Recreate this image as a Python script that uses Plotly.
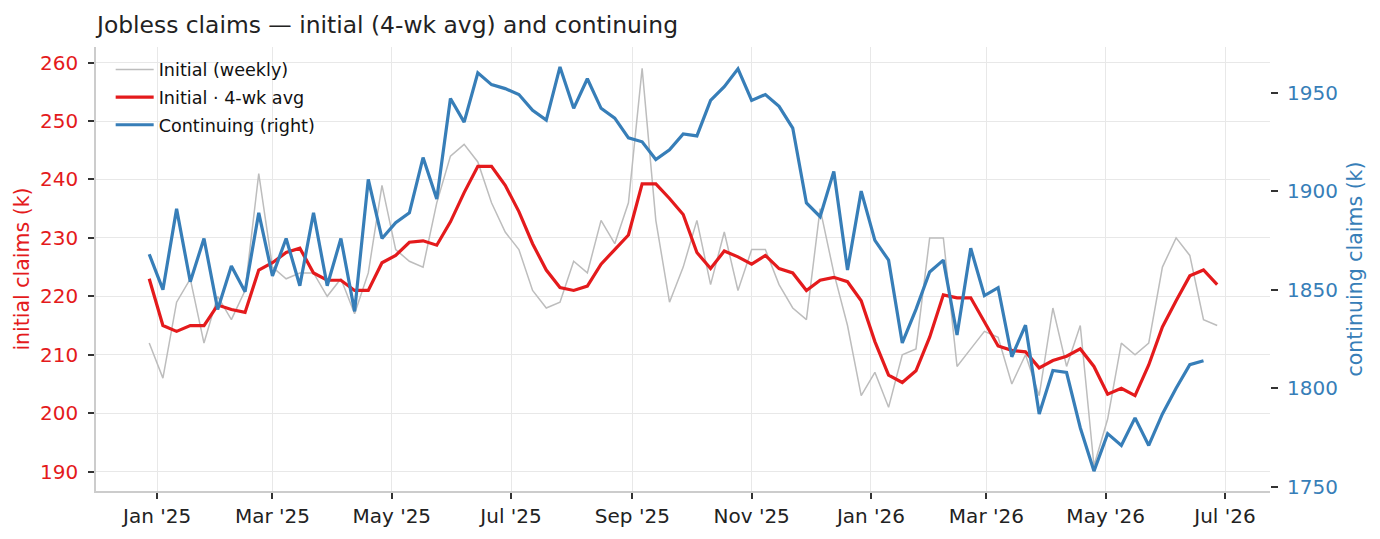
import pandas as pd
import plotly.graph_objects as go

# ---- data ----
week_start = "2024-12-28"          # first week-ending date (Saturday)
n_weeks = 79

initial_weekly = [
    212, 206, 219, 223, 212, 220, 216, 221, 241, 225,
    223, 224, 224, 220, 223, 217, 224, 239, 228, 226,
    225, 236, 244, 246, 243, 236, 231, 228, 221, 218,
    219, 226, 224, 233, 229, 236, 259, 233, 219, 225,
    233, 222, 231, 221, 228, 228, 222, 218, 216, 235,
    224, 215, 203, 207, 201, 210, 211, 230, 230, 208,
    211, 214, 213, 205, 210, 203, 218, 208, 215, 191,
    199, 212, 210, 212, 225, 230, 227, 216, 215,
]

initial_4wk = [
    223.0, 215.0, 214.0, 215.0, 215.0, 218.5, 217.75, 217.25, 224.5, 225.75,
    227.5, 228.25, 224.0, 222.75, 222.75, 221.0, 221.0, 225.75, 227.0, 229.25,
    229.5, 228.75, 232.75, 237.75, 242.25, 242.25, 239.0, 234.5, 229.0, 224.5,
    221.5, 221.0, 221.75, 225.5, 228.0, 230.5, 239.25, 239.25, 236.75, 234.0,
    227.5, 224.75, 227.75, 226.75, 225.5, 227.0, 224.75, 224.0, 221.0, 222.75,
    223.25, 222.5, 219.25, 212.25, 206.5, 205.25, 207.25, 213.0, 220.25, 219.75,
    219.75, 215.75, 211.5, 210.75, 210.5, 207.75, 209.0, 209.75, 211.0, 208.0,
    203.25, 204.25, 203.0, 208.25, 214.75, 219.25, 223.5, 224.5, 222.0,
]

continuing = [
    1868, 1850, 1891, 1854, 1876, 1840, 1862, 1849, 1889, 1857,
    1876, 1852, 1889, 1852, 1876, 1839, 1906, 1876, 1884, 1889,
    1917, 1896, 1947, 1935, 1960, 1954, 1952, 1949, 1941, 1936,
    1963, 1942, 1957, 1942, 1937, 1927, 1925, 1916, 1921, 1929,
    1928, 1946, 1953, 1962, 1946, 1949, 1943, 1932, 1894, 1887,
    1910, 1860, 1900, 1875, 1865, 1823, 1840, 1859, 1865, 1827,
    1871, 1847, 1851, 1816, 1832, 1787, 1809, 1808, 1780, 1758,
    1777, 1771, 1785, 1771, 1787, 1800, 1812, 1814,
]

x_tick_dates = ["2025-01-01", "2025-03-01", "2025-05-01", "2025-07-01", "2025-09-01",
                "2025-11-01", "2026-01-01", "2026-03-01", "2026-05-01", "2026-07-01"]
x_tick_labels = ["Jan '25", "Mar '25", "May '25", "Jul '25", "Sep '25",
                 "Nov '25", "Jan '26", "Mar '26", "May '26", "Jul '26"]
left_ticks = [190, 200, 210, 220, 230, 240, 250, 260]
right_ticks = [1750, 1800, 1850, 1900, 1950]

weeks = pd.date_range(week_start, periods=n_weeks, freq="7D")

RED = "#e41a1c"
BLUE = "#377eb8"
GRAY = "#bdbdbd"
FONT = "DejaVu Sans"

fig = go.Figure()
fig.add_trace(go.Scatter(x=weeks, y=initial_weekly, mode="lines", name="Initial (weekly)",
                         line=dict(color=GRAY, width=1.5), legendgroup="a"))
fig.add_trace(go.Scatter(x=weeks, y=initial_4wk, mode="lines", name="Initial · 4-wk avg",
                         line=dict(color=RED, width=3.2), legendgroup="b"))
fig.add_trace(go.Scatter(x=weeks[:len(continuing)], y=continuing, mode="lines",
                         name="Continuing (right)", line=dict(color=BLUE, width=3.2),
                         yaxis="y2", legendgroup="c"))

fig.update_layout(
    width=1380, height=539,
    margin=dict(l=96, r=110, t=46.7, b=48.3),
    paper_bgcolor="white", plot_bgcolor="white",
    font=dict(family=FONT, size=20, color="#222222"),
    title=dict(text="Jobless claims — initial (4-wk avg) and continuing",
               x=97 / 1380, xanchor="left", xref="container",
               y=1 - 24.5 / 539, yanchor="middle", yref="container",
               font=dict(size=23.4, color="#222222", family=FONT)),
    showlegend=True,
    legend=dict(x=0.0125, y=0.99, xanchor="left", yanchor="top",
                bgcolor="rgba(0,0,0,0)", borderwidth=0,
                font=dict(size=17.6, color="#111111", family=FONT),
                itemwidth=38,
                tracegroupgap=1.8, traceorder="grouped"),
    xaxis=dict(
        type="date",
        range=["2024-11-30 19:00", "2026-07-24"],
        tickvals=x_tick_dates, ticktext=x_tick_labels,
        showgrid=True, gridcolor="#e8e8e8", gridwidth=1,
        showline=True, linecolor="#cccccc", linewidth=1.5,
        ticks="outside", ticklen=6, tickwidth=1.5, tickcolor="#333333",
        tickfont=dict(size=20, color="#222222"),
        zeroline=False,
    ),
    yaxis=dict(
        range=[186.68, 262.67],
        tickvals=left_ticks,
        showgrid=True, gridcolor="#e8e8e8", gridwidth=1,
        showline=True, linecolor="#cccccc", linewidth=1.5,
        ticks="outside", ticklen=6, tickwidth=1.5, tickcolor="#333333",
        tickfont=dict(size=20, color=RED),
        ticklabelstandoff=6,
        title=dict(text="initial claims (k)", font=dict(size=20.5, color=RED), standoff=5),
        zeroline=False,
    ),
    yaxis2=dict(
        range=[1747.9, 1973.1],
        tickvals=right_ticks,
        overlaying="y", side="right", anchor="x",
        showgrid=False, showline=False,
        ticks="outside", ticklen=7, tickwidth=1.5, tickcolor="#333333",
        tickfont=dict(size=20, color=BLUE),
        ticklabelstandoff=5,
        title=dict(text="continuing claims (k)", font=dict(size=20.5, color=BLUE), standoff=10),
        zeroline=False,
    ),
)

fig.write_html("out.html")
